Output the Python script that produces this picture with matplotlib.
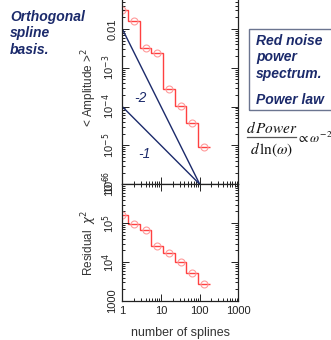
import numpy as np
import matplotlib
matplotlib.use('Agg')
import matplotlib.pyplot as plt
from matplotlib.ticker import FixedLocator, LogLocator, NullFormatter
from matplotlib.patches import Rectangle
from matplotlib.lines import Line2D

# number of splines (marker positions)
n_splines = [1, 2, 4, 8, 16, 32, 64, 128]
# mean squared amplitude per spline
amplitude = [3.1e-2, 1.6e-2, 3.3e-3, 2.4e-3, 2.8e-4, 1.06e-4, 3.8e-5, 9.0e-6]
# residual chi^2
residual = [1.6e5, 9.4e4, 6.5e4, 2.6e4, 1.67e4, 1.0e4, 5.1e3, 2.7e3]

# reference power law lines
line_x = [1, 100]
slope2_y = [1e-2, 1e-6]
slope1_y = [1e-4, 1e-6]

amp_ticks = [1e-6, 1e-5, 1e-4, 1e-3, 1e-2]
amp_labels = ['10$^{-6}$', '10$^{-5}$', '10$^{-4}$', '10$^{-3}$', '0.01']
res_ticks = [1e3, 1e4, 1e5, 1e6]
res_labels = ['1000', '10$^{4}$', '10$^{5}$', '10$^{6}$']
x_ticks = [1, 10, 100, 1000]
x_labels = ['1', '10', '100', '1000']

navy = '#1b2a6b'
red = '#ff4040'
pink = '#ff9a9a'

plt.rcParams['font.family'] = ['Liberation Sans', 'DejaVu Sans']

fig = plt.figure(figsize=(3.31, 3.40), dpi=100)
ax1 = fig.add_axes([0.3695, 0.458, 0.351, 0.571])
ax2 = fig.add_axes([0.3695, 0.1147, 0.351, 0.3433])


def step_edges(x):
    x = np.asarray(x, dtype=float)
    return np.concatenate([[x[0]], np.sqrt(x[:-1] * x[1:]), [x[-1] * np.sqrt(2)]])


def draw_steps(ax, x, y):
    ax.stairs(y, step_edges(x), baseline=None, color=red, lw=1.0)
    ax.plot(x, y, 'o', ms=5, mfc='none', mec=pink, mew=0.8)


for ax in (ax1, ax2):
    ax.set_xscale('log')
    ax.set_yscale('log')
    ax.set_xlim(1, 1000)
    ax.tick_params(which='both', direction='in', top=True, right=True,
                   labelsize=8, colors='#222222', width=0.7)
    ax.tick_params(which='major', length=5)
    ax.tick_params(which='minor', length=2.5)
    ax.xaxis.set_major_locator(FixedLocator(x_ticks))
    ax.xaxis.set_minor_locator(LogLocator(base=10, subs=np.arange(2, 10)))
    ax.xaxis.set_minor_formatter(NullFormatter())
    for s in ax.spines.values():
        s.set_linewidth(0.9)
        s.set_color('#222222')

# top panel
draw_steps(ax1, n_splines, amplitude)
ax1.plot(line_x, slope2_y, color=navy, lw=1.0)
ax1.plot(line_x, slope1_y, color=navy, lw=1.0)
ax1.set_ylim(1e-6, 1e-1)
ax1.set_yticks(amp_ticks)
ax1.set_yticklabels(amp_labels, rotation=90, va='center')
ax1.yaxis.set_minor_locator(LogLocator(base=10, subs=np.arange(2, 10)))
ax1.yaxis.set_minor_formatter(NullFormatter())
ax1.set_xticklabels([])
ax1.set_ylabel('< Amplitude >$^2$', fontsize=8.5, color='#333333', labelpad=1)
ax1.text(3.0, 1.7e-4, '-2', color=navy, fontsize=10, style='italic',
         ha='center', va='center')
ax1.text(3.75, 6.2e-6, '-1', color=navy, fontsize=10, style='italic',
         ha='center', va='center')

# bottom panel
draw_steps(ax2, n_splines, residual)
ax2.set_ylim(1e3, 1e6)
ax2.set_yticks(res_ticks)
ax2.set_yticklabels(res_labels, rotation=90, va='center')
ax2.yaxis.set_minor_locator(LogLocator(base=10, subs=np.arange(2, 10)))
ax2.yaxis.set_minor_formatter(NullFormatter())
ax2.set_xticklabels(x_labels)
ax2.set_ylabel('Residual  $\\chi^2$', fontsize=8.5, color='#333333', labelpad=1)
ax2.set_xlabel('number of splines', fontsize=9, color='#333333', labelpad=8)

# annotations
title_kw = dict(color=navy, fontsize=10, fontweight='bold', style='italic',
                transform=fig.transFigure, ha='left', va='center')
for i, line in enumerate(['Orthogonal', 'spline', 'basis.']):
    fig.text(10 / 331, 1 - (17 + 16.5 * i) / 340, line, **title_kw)

box = Rectangle((249 / 331, 1 - 110 / 340), 0.3, (110 - 29.5) / 340,
                transform=fig.transFigure, fill=False, ec='#6b7590', lw=1.0,
                clip_on=False)
fig.patches.append(box)
for i, line in enumerate(['Red noise', 'power', 'spectrum.']):
    fig.text(256 / 331, 1 - (41 + 16.3 * i) / 340, line, **title_kw)
fig.text(256 / 331, 1 - 100 / 340, 'Power law', **title_kw)

math_kw = dict(color='#111111', va='center',
               math_fontfamily='stix', transform=fig.transFigure)
fig.text(272 / 331, 1 - 128 / 340, r'$d\,Power$', ha='center', fontsize=11, **math_kw)
fig.text(272 / 331, 1 - 150 / 340, r'$d\,\mathrm{ln}(\omega)$', ha='center',
         fontsize=11, **math_kw)
fig.lines.append(Line2D([247 / 331, 296 / 331], [1 - 137 / 340, 1 - 137 / 340],
                        transform=fig.transFigure, color='#555555', lw=0.9))
fig.text(297 / 331, 1 - 138 / 340, r'$\propto\omega^{-2}$', ha='left',
         fontsize=9.5, **math_kw)

fig.savefig('out.png', dpi=100)
